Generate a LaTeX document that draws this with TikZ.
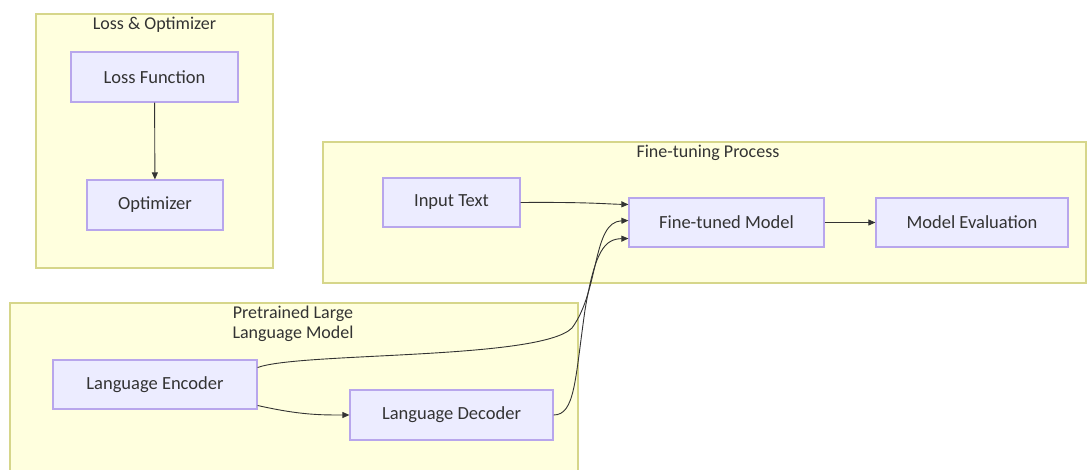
\documentclass[tikz,border=0pt]{standalone}
\usepackage{fontspec}
\setmainfont{Carlito}
\usetikzlibrary{arrows.meta}
\definecolor{clfill}{HTML}{FFFFDE}
\definecolor{cldraw}{HTML}{D6D68A}
\definecolor{ndfill}{HTML}{ECECFF}
\definecolor{nddraw}{HTML}{B8A6EC}
\definecolor{txt}{HTML}{333333}
\begin{document}
\begin{tikzpicture}[x=1pt,y=-1pt,
  cluster/.style={draw=cldraw,fill=clfill,line width=1.2pt},
  box/.style={draw=nddraw,fill=ndfill,line width=1.2pt,text=txt,font=\fontsize{18.5}{21}\selectfont,inner sep=0pt},
  ctitle/.style={text=txt,font=\fontsize{18}{20}\selectfont,align=center,inner sep=0pt},
  edge/.style={draw=txt,line width=0.9pt,-{Triangle[length=7pt,width=6pt]}}]
\useasboundingbox (0,0) rectangle (1088,470);
\fill[white] (0,0) rectangle (1088,470);
% clusters
\draw[cluster] (36,14) rectangle (273,268);
\node[ctitle] (t1) at (154.5,25) {Loss \& Optimizer};
\draw[cluster] (323,142) rectangle (1086,283);
\node[ctitle] (t2) at (708,153) {Fine-tuning Process};
\draw[cluster] (10,303) rectangle (578,472);
\node[ctitle] (t3) at (293,324) {Pretrained Large\\Language Model};
% nodes
\node[box,minimum width=167pt,minimum height=50pt] (loss) at (154.5,77) {Loss Function};
\node[box,minimum width=136pt,minimum height=50pt] (opt) at (155,205) {Optimizer};
\node[box,minimum width=137pt,minimum height=49pt] (input) at (451.5,202.5) {Input Text};
\node[box,minimum width=195pt,minimum height=49pt] (ft) at (726.5,222.5) {Fine-tuned Model};
\node[box,minimum width=192pt,minimum height=49pt] (eval) at (972,222.5) {Model Evaluation};
\node[box,minimum width=204pt,minimum height=49pt] (enc) at (155,384.5) {Language Encoder};
\node[box,minimum width=203pt,minimum height=50pt] (dec) at (451.5,415) {Language Decoder};
% edges
\draw[edge] (loss) -- (opt);
\coordinate (ftin1) at ([yshift=18pt]ft.west);
\coordinate (ftin2) at ([yshift=2pt]ft.west);
\coordinate (ftin3) at ([yshift=-16pt]ft.west);
\draw[edge] (input.east) .. controls (590,202) and (605,204) .. (ftin1);
\draw[edge] ([yshift=17pt]enc.east) .. controls (300,352) and (540,360) .. (572,328)
  .. controls (600,290) and (592,222) .. (ftin2);
\draw[edge] (dec.east) .. controls (575,415) and (575,380) .. (585,310)
  .. controls (595,250) and (605,239) .. (ftin3);
\draw[edge] ([yshift=-21pt]enc.east) .. controls (300,415) and (320,415) .. (dec.west);
\draw[edge] (ft) -- (eval);
\end{tikzpicture}
\end{document}
